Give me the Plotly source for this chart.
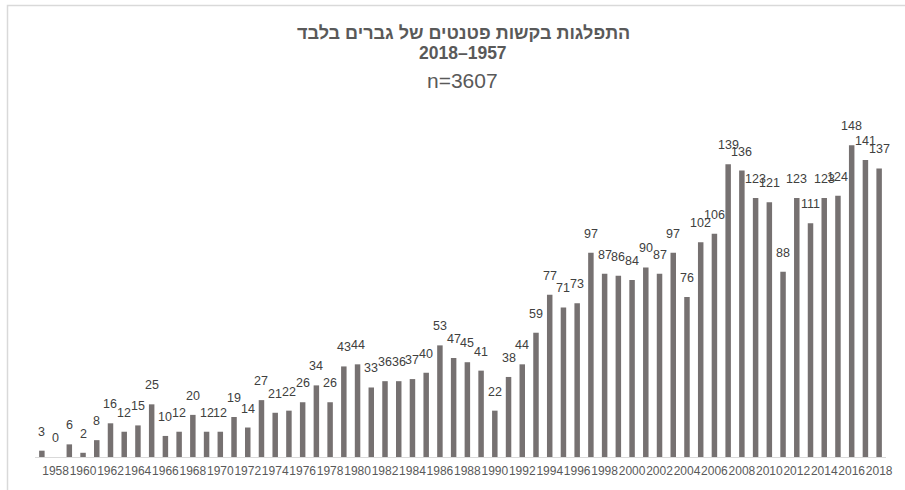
import plotly.graph_objects as go

# Patent applications by men only, per year
years = list(range(1957, 2019))
applications = [3, 0, 6, 2, 8, 16, 12, 15, 25, 10, 12, 20, 12, 12, 19, 14, 27, 21, 22, 26,
                 34, 26, 43, 44, 33, 36, 36, 37, 40, 53, 47, 45, 41, 22, 38, 44, 59, 77, 71, 73,
                 97, 87, 86, 84, 90, 87, 97, 76, 102, 106, 139, 136, 123, 121, 88, 123, 111, 123,
                 124, 148, 141, 137]
tick_years = list(range(1958, 2019, 2))

title_main = "התפלגות בקשות פטנטים של גברים בלבד"
title_range = "2018–1957"
title_n = "n=3607"

W, H = 905, 490
L, R, T, B = 35, 19, 120, 30
pw, ph = W - L - R, H - T - B

def px_x(x):
    return (x - L) / pw

def px_y(y):
    return (H - B - y) / ph

fig = go.Figure(go.Bar(
    x=years, y=applications,
    marker=dict(color="#767171", line=dict(width=0)),
    hovertemplate="%{x}: %{y}<extra></extra>",
))

# value labels sit a little above each bar
label_annotations = [
    dict(x=yr, y=v, xref="x", yref="y", text=str(v), showarrow=False,
         xanchor="center", yanchor="bottom", yshift=10,
         font=dict(family="Liberation Sans, Arial", size=12.5, color="#404040"))
    for yr, v in zip(years, applications)
]

title_annotations = [
    dict(text="<b>" + title_main + "</b>", x=px_x(463), y=px_y(32), xref="paper", yref="paper",
         showarrow=False, xanchor="center", yanchor="middle",
         font=dict(family="Liberation Sans, Arial", size=18, color="#595959")),
    dict(text="<b>" + title_range + "</b>", x=px_x(463), y=px_y(52), xref="paper", yref="paper",
         showarrow=False, xanchor="center", yanchor="middle",
         font=dict(family="Liberation Sans, Arial", size=17.5, color="#595959")),
    dict(text=title_n, x=px_x(462), y=px_y(80), xref="paper", yref="paper",
         showarrow=False, xanchor="center", yanchor="middle",
         font=dict(family="Liberation Sans, Arial", size=21, color="#595959")),
]

fig.update_layout(
    width=W, height=H,
    margin=dict(l=L, r=R, t=T, b=B),
    paper_bgcolor="white", plot_bgcolor="white",
    bargap=0.6,
    showlegend=False,
    xaxis=dict(
        range=[1956.5, 2018.5],
        tickmode="array", tickvals=tick_years, ticktext=[str(y) for y in tick_years],
        tickangle=0,
        ticks="outside", ticklen=3, tickcolor="rgba(0,0,0,0)",
        tickfont=dict(family="Liberation Sans, Arial", size=12, color="#595959"),
        showline=True, linecolor="#d9d9d9", linewidth=1,
        showgrid=False, zeroline=False, fixedrange=True,
    ),
    yaxis=dict(range=[0, 160], visible=False, showgrid=False, zeroline=False, fixedrange=True),
    shapes=[
        dict(type="rect", xref="paper", yref="paper",
             x0=px_x(7.5), x1=px_x(W + 10), y0=px_y(H + 10), y1=px_y(4.5),
             line=dict(color="#d9d9d9", width=1.5), fillcolor="rgba(0,0,0,0)", layer="below"),
    ],
    annotations=label_annotations + title_annotations,
)

fig.write_html("out.html", config=dict(displayModeBar=False))
